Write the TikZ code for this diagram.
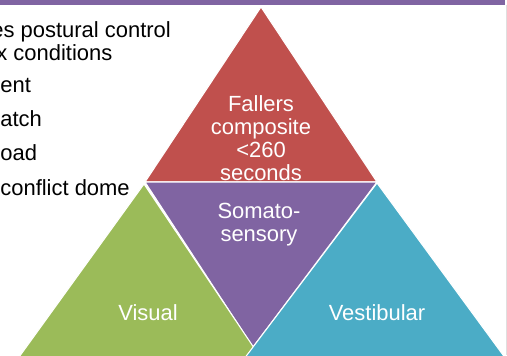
\documentclass[tikz,border=0pt]{standalone}
\usepackage{fontspec}
\setmainfont{Liberation Sans}
\definecolor{pyrred}{RGB}{192,80,77}
\definecolor{pyrpur}{RGB}{128,100,162}
\definecolor{pyrgrn}{RGB}{155,187,89}
\definecolor{pyrblu}{RGB}{75,172,198}
\usetikzlibrary{positioning}

\begin{document}
\begin{tikzpicture}[x=0.02cm, y=-0.02cm,
facet/.style={draw=white, line width=0.6pt},
bullet/.style={anchor=base west, inner sep=0pt, font=\fontsize{12.5}{13}\selectfont},
facetlbl/.style={text=white, align=center, inner sep=0pt, font=\fontsize{12.5}{13}\selectfont}]
\useasboundingbox (0,0) rectangle (507,355);
\clip (0,0) rectangle (507,355);
% slide frame
\fill[pyrpur] (0,0) rectangle (505,5);
\draw[gray!25, line width=0.6pt] (506.5,5) -- (506.5,355);
% text on the left
\node[bullet] (postural) at (-9,37) {es postural control};
\node[bullet] (cond) at (-4,60) {x conditions};
\node[bullet] (ent) at (0,92) {ent};
\node[bullet] (atch) at (0,126) {atch};
\node[bullet] (oad) at (0,160) {oad};
\node[bullet] (dome) at (0,195) {conflict dome};
% pyramid
\path[facet, fill=pyrred] (261,7) -- (145,182) -- (377,182) -- cycle;
\path[facet, fill=pyrpur] (145,182) -- (377,182) -- (253,347) -- cycle;
\path[facet, fill=pyrgrn] (144,184) -- (-12,400) -- (289,400) -- cycle;
\path[facet, fill=pyrblu] (377,183) -- (213,400) -- (536,400) -- cycle;
\node[facetlbl] (fallers) at (261,138) {Fallers\\composite\\<260\\seconds};
\node[facetlbl] (somato) at (259,225) {Somato-\\sensory};
\node[facetlbl] (visual) at (148,313) {Visual};
\node[facetlbl] (vestib) at (377,313) {Vestibular};
\end{tikzpicture}
\end{document}
